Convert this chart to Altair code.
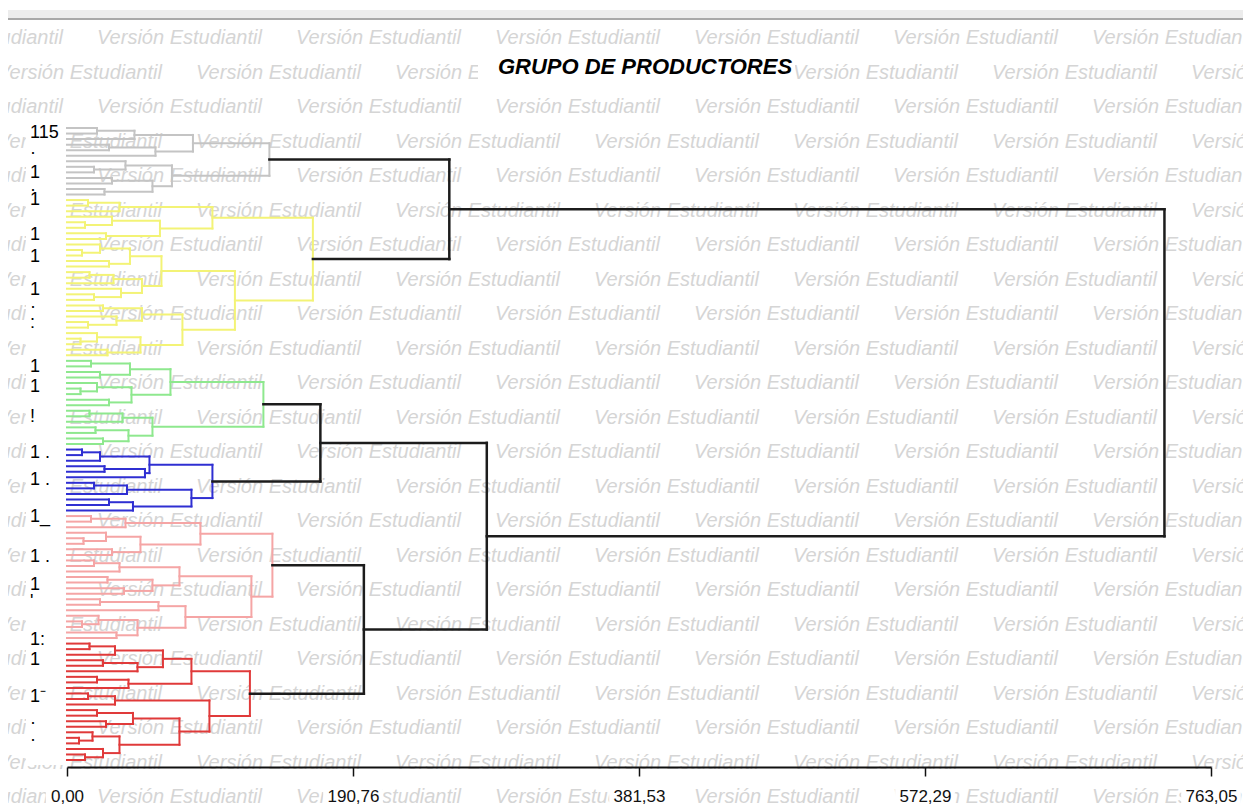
import altair as alt
import pandas as pd

# ---------------- DATA ----------------
L = 0  # hoja (productor)

# Subárboles de cada grupo: (altura de fusión, hijo izquierdo, hijo derecho)
gris = (135, (84, (45, (20, L, L), L), (59, (28, L, L), L)),
             (70, (39, L, (18, L, L)), (57, (30, L, L), (25, L, L))))
amarillo = (164, (97, (35, (14, L, L), L), (62, (30, L, (12, L, L)), (26, L, L))),
                 (112, (63, (42, (22, L, (10, L, L)), (28, L, L)),
                            (50, (31, (15, L, L), L), (36, L, (18, L, L)))),
                       (77, (50, (24, L, L), (33, L, (14, L, L))),
                            (49, (20, L, (9, L, L)), (27, L, L)))))
verde = (131, (69, (42, (16, L, L), (22, L, L)), (43, (20, L, (9, L, L)), (28, L, L))),
              (57, (37, (15, L, L), L), (41, (19, L, L), (24, L, L))))
azul = (97, (55, (22, (10, L, L), L), (52, (25, L, L), L)),
            (83, (40, (18, L, L), L), (44, (28, L, L), L)))
salmon = (137, (89, (39, (16, L, L), L), (49, (26, L, (11, L, L)), (30, L, L))),
               (123, (75, (35, (18, L, L), L), (57, (27, L, L), (38, L, L))),
                     (79, (61, (22, L, L), L), (47, (21, L, (10, L, L)), (33, L, L)))))
rojo = (122, (83, (64, (32, (15, L, L), L), (47, (24, L, L), L)), (41, (20, L, L), L)),
             (95, (32, (14, L, L), L),
                  (75, (44, (20, L, L), (26, L, L)),
                       (35, (17, L, (8, L, L)), (24, L, (12, L, L))))))

# Uniones entre grupos (en negro)
arbol = (732, (255, "gris", "amarillo"),
              (280, (169, "verde", "azul"), (198, "salmon", "rojo")))

grupos = ["gris", "amarillo", "verde", "azul", "salmon", "rojo", "enlace"]
colores = ["#c4c4c4", "#f3f376", "#8ee88e", "#2f2fd2", "#f5a5a5", "#e03a3a", "#1c1c1c"]

# Etiquetas (truncadas) del eje de productores
etiq_pos = [0.9, 4.5, 8.1, 11.2, 13.0, 19.3, 23.3, 29.2, 32.3, 35.2, 43.1, 46.7,
            52.1, 58.6, 63.5, 70.2, 77.4, 82.4, 85.5, 92.4, 96.0, 102.6, 107.3, 110.4]
etiq_txt = ["115", "·", "1", "·", "1", "1", "1", "1", "·", ":", "1", "1",
            "!", "1 .", "1 .", "1_", "1 .", "1", "'", "1:", "1", "1⁻", "·", "·"]

ticks = [0.00, 190.76, 381.53, 572.29, 763.05]
titulo = "GRUPO DE PRODUCTORES"
marca = "Versión Estudiantil"

# ---------------- LAYOUT OF THE DENDROGRAM ----------------
subarboles = {"gris": gris, "amarillo": amarillo, "verde": verde,
              "azul": azul, "salmon": salmon, "rojo": rojo}
segs = []
contador = [0]


def recorrer(nodo, grupo):
    if isinstance(nodo, str):
        return recorrer(subarboles[nodo], nodo)
    if isinstance(nodo, int):
        i = contador[0]
        contador[0] += 1
        return 0.0, float(i)
    h, a, b = nodo
    ha, ya = recorrer(a, grupo)
    hb, yb = recorrer(b, grupo)
    segs.append(dict(x=ha, x2=h, y=ya, y2=ya, grupo=grupo))
    segs.append(dict(x=hb, x2=h, y=yb, y2=yb, grupo=grupo))
    segs.append(dict(x=h, x2=h, y=ya, y2=yb, grupo=grupo))
    return h, (ya + yb) / 2


recorrer(arbol, "enlace")
df = pd.DataFrame(segs)
df_grupos = df[df.grupo != "enlace"]
df_enlace = df[df.grupo == "enlace"]

df_etq = pd.DataFrame({"pos": etiq_pos, "txt": etiq_txt})

# watermark grid (pixel positions relative to plot origin)
wm = []
for k in range(23):
    fy = 38 + 34.5 * k - 120
    off = 97 if k % 2 == 0 else -3
    for j in range(-1, 7):
        wm.append(dict(px=off + 199 * j - 67, py=fy, t=marca))
df_wm = pd.DataFrame(wm)

# white boxes behind the tick labels (half width from label length, in axis units)
W, H = 1144, 647
px_por_unidad = W / 763.05
cajas = []
for t in ticks:
    txt = f"{t:.2f}".replace(".", ",")
    media = (len(txt) * 8.6 / 2 + 4) / px_por_unidad
    cajas.append(dict(x=t - media, x2=t + media))
df_cajas = pd.DataFrame(cajas)

# ---------------- CHART ----------------
sx = alt.Scale(domain=[0, 763.05], nice=False, zero=False)
sy = alt.Scale(domain=[-1.443, 115.26], reverse=True, nice=False, zero=False)
scol = alt.Scale(domain=grupos, range=colores)

eje = alt.Axis(
    values=ticks,
    labelExpr="replace(format(datum.value, '.2f'), '.', ',')",
    grid=False, title=None, domainColor="#111", domainWidth=2,
    tickColor="#111", tickWidth=1.5, tickSize=9,
    labelFont="Liberation Sans", labelFontSize=17, labelColor="#111",
    labelPadding=12, labelFlush=False, labelOverlap=False, zindex=1,
)

marca_agua = alt.Chart(df_wm).mark_text(
    align="left", baseline="middle", font="Liberation Sans", fontSize=20,
    fontStyle="italic", color="#d5d5d5"
).encode(
    x=alt.X("px:Q", scale=None, axis=None),
    y=alt.Y("py:Q", scale=None, axis=None),
    text="t:N",
)

uno = pd.DataFrame({"a": [0]})
barra = alt.Chart(uno).mark_rect(color="#ececec").encode(
    x=alt.value(-59), x2=alt.value(1176), y=alt.value(-110), y2=alt.value(-102)
)
linea_barra = alt.Chart(uno).mark_rule(color="#a8a8a8", strokeWidth=2).encode(
    x=alt.value(-59), x2=alt.value(1176), y=alt.value(-101)
)

fondo_titulo = alt.Chart(uno).mark_rect(color="white").encode(
    x=alt.value(411), x2=alt.value(728), y=alt.value(-64), y2=alt.value(-38)
)
texto_titulo = alt.Chart(pd.DataFrame({"t": [titulo]})).mark_text(
    align="center", baseline="middle", font="Liberation Sans", fontSize=22,
    fontWeight="bold", fontStyle="italic", color="#000"
).encode(x=alt.value(578), y=alt.value(-53), text="t:N")

fondo_etiquetas = alt.Chart(uno).mark_rect(color="white").encode(
    x=alt.value(-41), x2=alt.value(-1), y=alt.value(2), y2=alt.value(645)
)

fondo_ticks = alt.Chart(df_cajas).mark_rect(color="white").encode(
    x=alt.X("x:Q", scale=sx, axis=eje), x2="x2:Q",
    y=alt.value(667), y2=alt.value(688),
)

ramas = alt.Chart(df_grupos).mark_rule(strokeWidth=2, strokeCap="square").encode(
    x=alt.X("x:Q", scale=sx, axis=eje),
    x2="x2:Q",
    y=alt.Y("y:Q", scale=sy, axis=None),
    y2="y2:Q",
    color=alt.Color("grupo:N", scale=scol, legend=None),
)

enlaces = alt.Chart(df_enlace).mark_rule(strokeWidth=2.5, strokeCap="square").encode(
    x=alt.X("x:Q", scale=sx, axis=eje),
    x2="x2:Q",
    y=alt.Y("y:Q", scale=sy, axis=None),
    y2="y2:Q",
    color=alt.Color("grupo:N", scale=scol, legend=None),
)

etiquetas = alt.Chart(df_etq).mark_text(
    align="left", baseline="middle", font="Liberation Sans", fontSize=18, color="#000"
).encode(
    x=alt.value(-37),
    y=alt.Y("pos:Q", scale=sy, axis=None),
    text="txt:N",
)

chart = alt.layer(marca_agua, barra, linea_barra, fondo_titulo, texto_titulo,
                  fondo_etiquetas, fondo_ticks, ramas, enlaces, etiquetas).properties(
    width=W, height=H,
    background="white",
    autosize=alt.AutoSizeParams(type="none"),
    padding={"left": 59, "top": 112, "right": 32, "bottom": 40},
).configure_view(strokeWidth=0)

chart.save("out.html", embed_options={"renderer": "svg", "actions": False})
